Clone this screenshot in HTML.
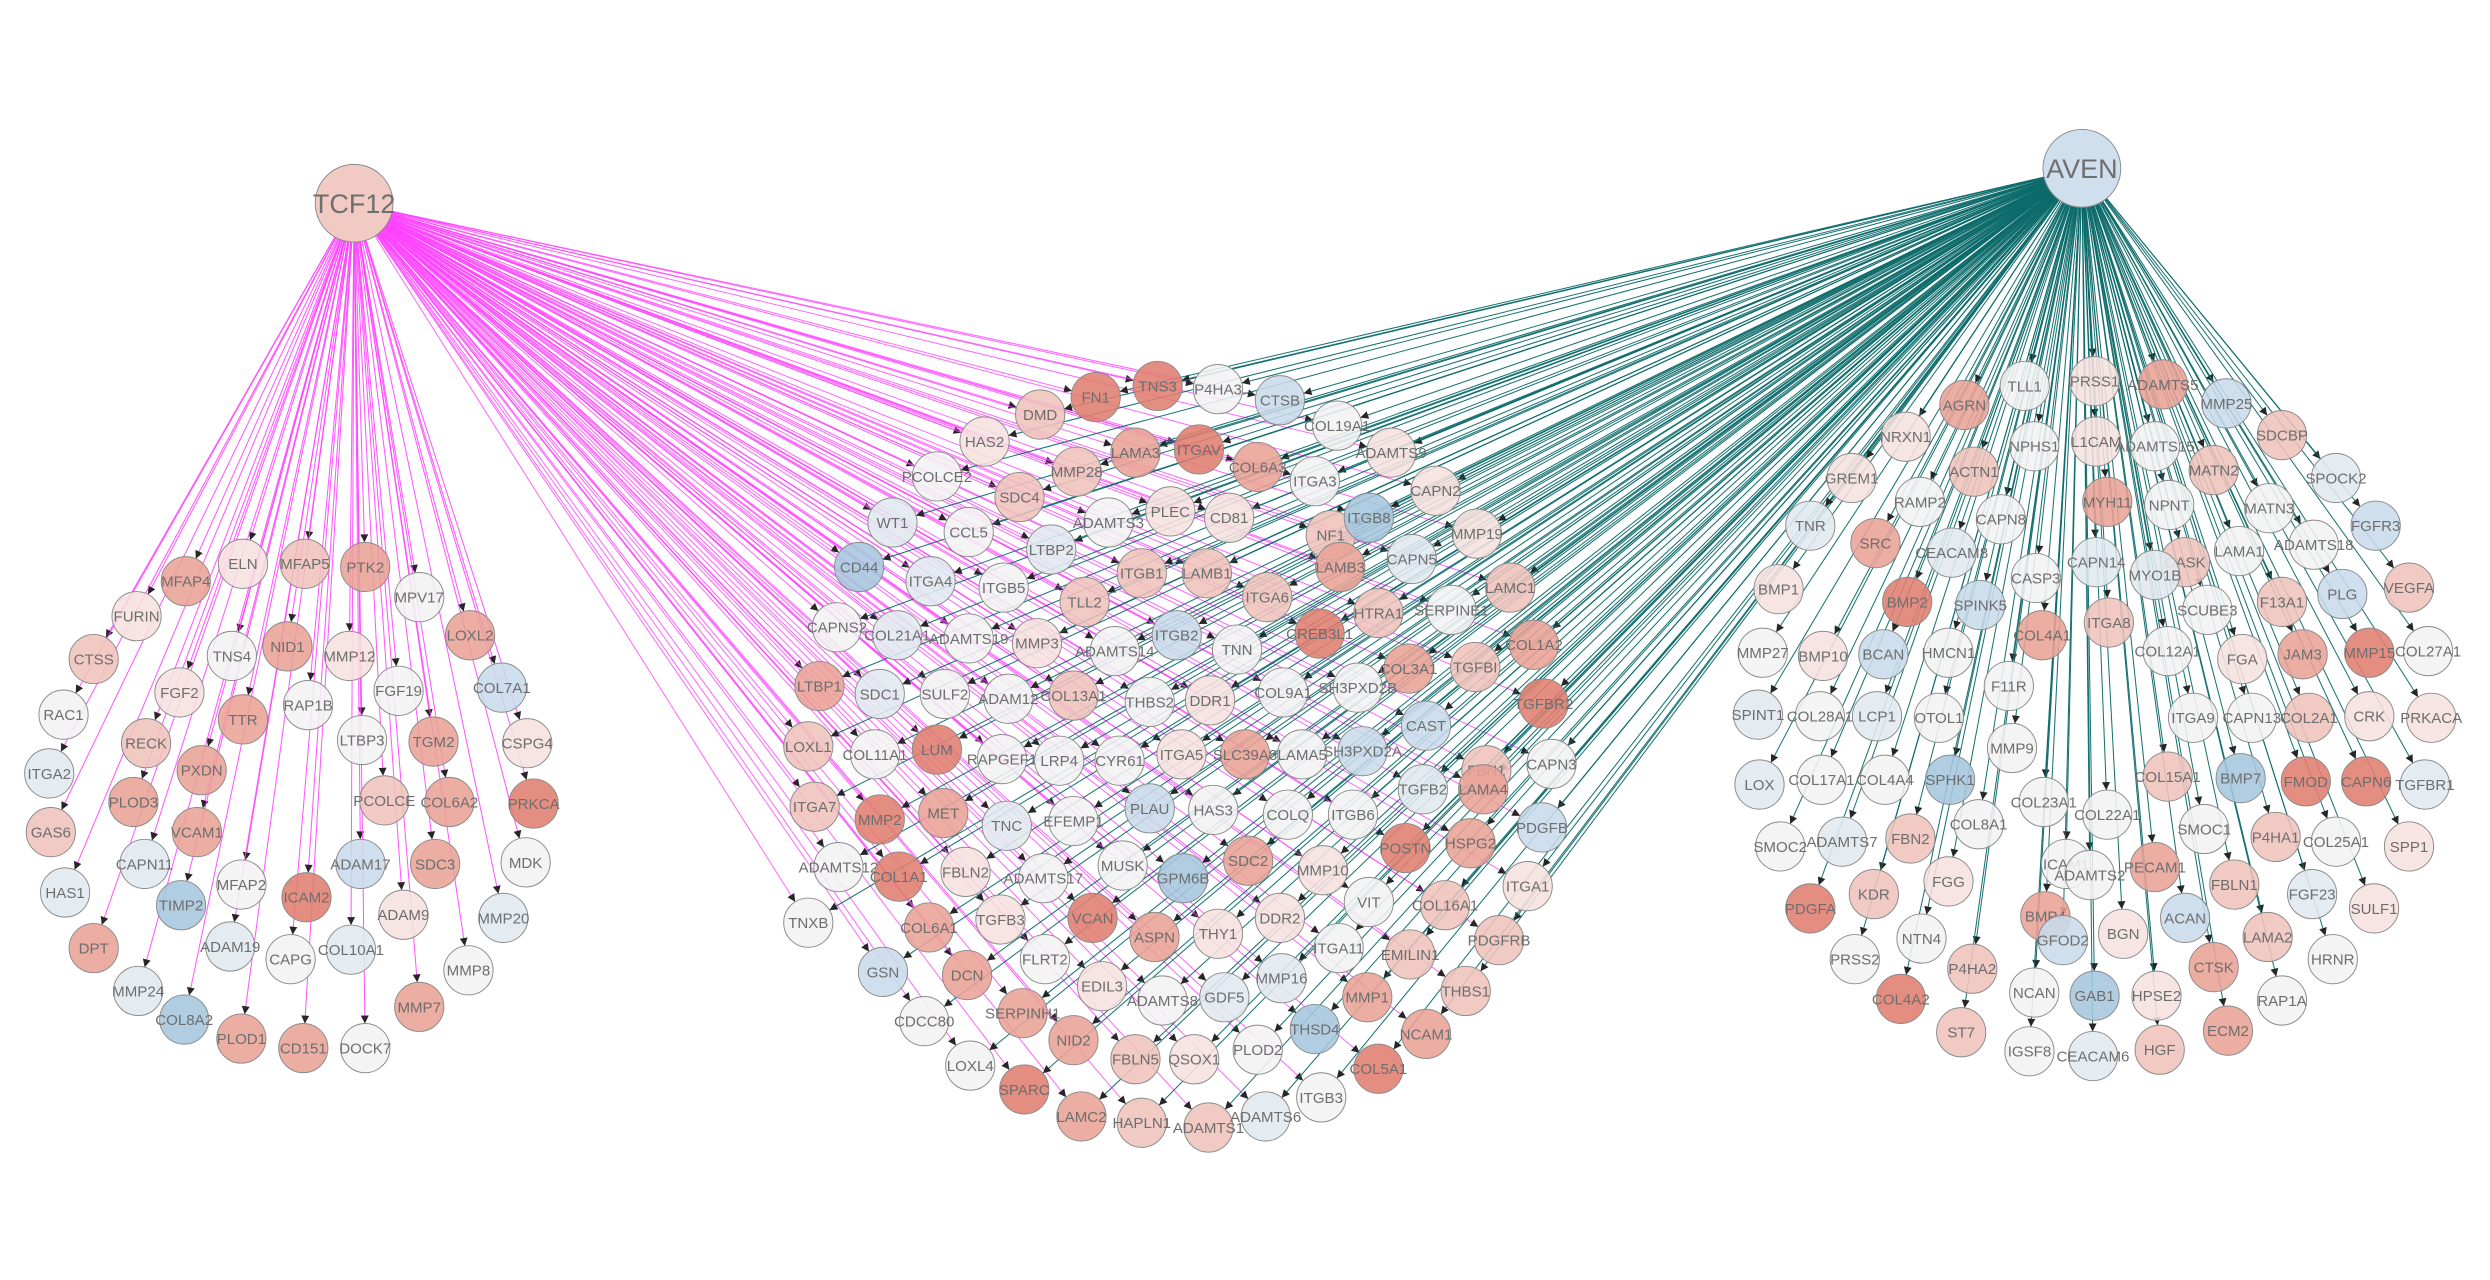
<!DOCTYPE html>
<html><head><meta charset="utf-8">
<style>
html,body{margin:0;padding:0;background:#fff;}
svg{display:block;}
text{font-family:"Liberation Sans","DejaVu Sans",sans-serif;fill:#6e6e6e;}
</style></head>
<body>
<svg id="net" width="2490" height="1280" viewBox="0 0 1568 806" xmlns="http://www.w3.org/2000/svg">
<defs>
<marker id="arr" viewBox="0 0 10 10" refX="10" refY="5" markerWidth="7" markerHeight="5" markerUnits="userSpaceOnUse" orient="auto"><path d="M0,0 L10,5 L0,10 z" fill="#262626"/></marker>
</defs>
<g id="edges"></g>
<g id="nodes"></g>
</svg>
<script>
const hubs = [["TCF12",223,128,"r1"],["AVEN",1311,106,"b1"]];
const leftNodes = [
["MFAP4",117,366,"r2"],["ELN",153,355,"r0"],["MFAP5",192,355,"r1"],["PTK2",230,357,"r2"],["MPV17",264,376,"w"],["LOXL2",296,400,"r2"],
["FURIN",86,388,"r0"],["CTSS",59,415,"r1"],["NID1",181,407,"r2"],["TNS4",146,413,"w"],["MMP12",220,413,"r0"],["FGF19",251,435,"w"],
["COL7A1",316,433,"b1"],["RAC1",40,450,"w"],["FGF2",113,436,"r0"],["TTR",153,453,"r2"],["RAP1B",194,444,"w"],["LTBP3",228,466,"w"],
["TGM2",273,467,"r2"],["CSPG4",332,468,"r0"],["ITGA2",31,487,"b0"],["RECK",92,468,"r1"],["PXDN",127,485,"r2"],["PCOLCE",242,504,"r1"],
["COL6A2",283,505,"r2"],["PRKCA",336,506,"r3"],["GAS6",32,524,"r1"],["PLOD3",84,505,"r2"],["VCAM1",124,524,"r2"],["CAPN11",91,544,"b0"],
["MFAP2",152,557,"w"],["ADAM17",227,544,"b1"],["SDC3",274,544,"r2"],["MDK",331,543,"w"],["HAS1",41,562,"b0"],["TIMP2",114,570,"b2"],
["ICAM2",193,565,"r3"],["ADAM9",254,576,"r0"],["MMP20",317,578,"b0"],["DPT",59,597,"r2"],["ADAM19",145,596,"b0"],["CAPG",183,604,"w"],
["COL10A1",221,598,"b0"],["MMP24",87,624,"b0"],["MMP8",295,611,"w"],["MMP7",264,634,"r2"],["COL8A2",116,642,"b2"],["PLOD1",152,654,"r2"],
["CD151",191,660,"r2"],["DOCK7",230,660,"w"]];
const midNodes = [
["FN1",690,250,"r3"],["TNS3",729,243,"r3"],["P4HA3",767,245,"w"],["CTSB",806,252,"b1"],["COL19A1",842,268,"w"],["DMD",655,261,"r1"],
["HAS2",620,278,"r0"],["LAMA3",715,285,"r2"],["ITGAV",755,283,"r3"],["ADAMTS9",876,285,"r0"],["MMP28",678,297,"r1"],["COL6A3",792,294,"r2"],
["ITGA3",828,303,"w"],["CAPN2",904,309,"r0"],["PCOLCE2",590,300,"w"],["SDC4",642,313,"r1"],["ADAMTS3",698,329,"w"],["PLEC",737,322,"r0"],
["CD81",774,326,"r0"],["NF1",838,337,"r1"],["ITGB8",862,326,"b2"],["MMP19",930,336,"r0"],["WT1",562,329,"b0"],["CCL5",610,335,"w"],
["LTBP2",662,346,"b0"],["CAPN5",889,352,"b0"],["LAMB3",844,357,"r2"],["LAMC1",951,370,"r1"],["CD44",541,357,"b2"],["ITGA4",586,366,"b0"],
["ITGB5",632,370,"w"],["ITGB1",719,361,"r1"],["LAMB1",760,361,"r1"],["ITGA6",798,376,"r1"],["TLL2",683,379,"r1"],["HTRA1",868,386,"r1"],
["SERPINE1",914,384,"w"],["CAPNS2",527,395,"w"],["COL21A1",565,400,"b0"],["ADAMTS19",610,402,"w"],["MMP3",653,405,"r0"],["ADAMTS14",702,410,"w"],
["ITGB2",741,400,"b1"],["TNN",779,409,"w"],["CREB3L1",831,399,"r3"],["COL1A2",966,406,"r2"],["COL3A1",887,421,"r2"],["TGFBI",929,420,"r1"],
["LTBP1",516,432,"r2"],["SDC1",554,437,"b0"],["SULF2",595,437,"w"],["ADAM12",635,440,"w"],["COL13A1",676,438,"r1"],["THBS2",724,442,"w"],
["DDR1",762,441,"r0"],["COL9A1",808,436,"w"],["SH3PXD2B",855,433,"w"],["TGFBR2",972,443,"r3"],["CAST",898,457,"b1"],["LOXL1",509,470,"r1"],
["COL11A1",551,475,"w"],["LUM",590,472,"r3"],["RAPGEF1",631,478,"w"],["LRP4",667,479,"w"],["CYR61",705,479,"w"],["ITGA5",744,475,"r0"],
["SLC39A8",784,475,"r2"],["LAMA5",820,475,"w"],["SH3PXD2A",858,473,"b1"],["FBN1",936,485,"r1"],["CAPN3",977,481,"w"],["TGFB2",896,497,"b0"],
["LAMA4",934,497,"r2"],["ITGA7",513,508,"r1"],["MMP2",554,516,"r3"],["MET",594,512,"r2"],["TNC",634,520,"b0"],["EFEMP1",676,517,"w"],
["PLAU",724,509,"b1"],["HAS3",764,510,"w"],["COLQ",811,513,"w"],["ITGB6",852,513,"w"],["HSPG2",926,531,"r2"],["PDGFB",971,521,"b1"],
["ADAMTS12",528,546,"w"],["COL1A1",566,552,"r3"],["FBLN2",608,549,"r0"],["ADAMTS17",657,553,"w"],["MUSK",707,545,"w"],["GPM6B",745,553,"b2"],
["SDC2",786,542,"r2"],["POSTN",885,534,"r3"],["MMP10",833,548,"r0"],["COL16A1",910,570,"r1"],["ITGA1",962,558,"r0"],["TNXB",509,581,"w"],
["COL6A1",585,584,"r2"],["TGFB3",630,579,"r0"],["VCAN",688,578,"r3"],["ASPN",727,590,"r2"],["THY1",767,588,"r0"],["DDR2",806,578,"r0"],
["VIT",862,568,"w"],["ITGA11",843,597,"w"],["PDGFRB",944,592,"r1"],["GSN",556,612,"b1"],["DCN",609,614,"r2"],["FLRT2",658,604,"w"],
["EDIL3",694,621,"r0"],["ADAMTS8",732,630,"w"],["GDF5",771,628,"b0"],["MMP16",807,616,"b0"],["EMILIN1",888,601,"r1"],["SERPINH1",644,638,"r2"],
["CDCC80",582,643,"w"],["NID2",676,655,"r2"],["MMP1",861,628,"r2"],["THBS1",923,624,"r1"],["LOXL4",611,671,"w"],["FBLN5",715,667,"r1"],
["QSOX1",752,667,"r0"],["PLOD2",792,661,"w"],["THSD4",828,648,"b2"],["NCAM1",898,651,"r2"],["SPARC",645,686,"r3"],["LAMC2",681,703,"r2"],
["HAPLN1",719,707,"r1"],["ADAMTS1",761,710,"r1"],["ADAMTS6",797,703,"b0"],["ITGB3",832,691,"w"],["COL5A1",868,673,"r3"]];
const rightNodes = [
["AGRN",1237,255,"r2"],["TLL1",1275,243,"w"],["PRSS1",1319,240,"r0"],["ADAMTS5",1362,242,"r2"],["MMP25",1402,254,"b1"],["NRXN1",1200,275,"r0"],
["NPHS1",1281,281,"w"],["L1CAM",1320,278,"r0"],["ADAMTS15",1357,281,"w"],["SDCBP",1437,274,"r1"],["GREM1",1166,301,"r0"],["ACTN1",1243,297,"r1"],
["RAMP2",1209,316,"w"],["MATN2",1394,296,"r1"],["SPOCK2",1471,301,"b0"],["MYH11",1327,316,"r2"],["NPNT",1366,318,"w"],["MATN3",1429,320,"w"],
["CAPN8",1260,327,"w"],["TNR",1140,331,"b0"],["FGFR3",1496,331,"b1"],["SRC",1181,342,"r2"],["ADAMTS18",1457,343,"w"],["CEACAM8",1229,348,"b0"],
["CASK",1376,354,"r1"],["CAPN14",1320,354,"b0"],["MYO1B",1357,362,"b0"],["LAMA1",1410,347,"w"],["BMP1",1120,371,"r0"],["CASP3",1282,364,"w"],
["BMP2",1201,379,"r3"],["SPINK5",1247,381,"b1"],["PLG",1475,374,"b1"],["VEGFA",1517,370,"r1"],["SCUBE3",1390,384,"w"],["F13A1",1437,379,"r1"],
["COL4A1",1286,400,"r2"],["BMP10",1148,413,"r0"],["HMCN1",1227,411,"w"],["ITGA8",1328,392,"r1"],["MMP27",1110,411,"w"],["COL27A1",1529,410,"w"],
["BCAN",1186,412,"b1"],["COL12A1",1365,410,"w"],["FGA",1412,415,"r0"],["JAM3",1450,412,"r2"],["MMP15",1492,411,"r3"],["F11R",1265,432,"w"],
["SPINT1",1107,450,"b0"],["COL28A1",1146,451,"w"],["LCP1",1182,451,"b0"],["OTOL1",1221,452,"w"],["ITGA9",1381,452,"w"],["CAPN13",1418,452,"w"],
["COL2A1",1454,452,"r1"],["CRK",1492,451,"r0"],["PRKACA",1531,452,"r0"],["MMP9",1267,471,"w"],["LOX",1108,494,"b0"],["COL17A1",1147,491,"w"],
["COL4A4",1187,491,"w"],["SPHK1",1228,491,"b2"],["COL23A1",1287,505,"w"],["COL15A1",1365,489,"r1"],["COL22A1",1327,513,"w"],["BMP7",1411,490,"b2"],
["FMOD",1452,492,"r3"],["CAPN6",1490,492,"r3"],["TGFBR1",1527,494,"b0"],["SMOC2",1121,533,"w"],["ADAMTS7",1160,530,"b0"],["COL8A1",1246,519,"w"],
["FBN2",1203,528,"r1"],["SMOC1",1388,522,"w"],["P4HA1",1433,527,"r1"],["COL25A1",1471,530,"w"],["SPP1",1517,533,"r0"],["ICAM1",1301,544,"w"],
["PECAM1",1357,546,"r2"],["FBLN1",1407,557,"r1"],["FGG",1227,555,"r0"],["KDR",1180,563,"r1"],["ADAMTS2",1316,551,"w"],["PDGFA",1140,572,"r3"],
["ACAN",1376,578,"b1"],["FGF23",1456,563,"b0"],["SULF1",1495,572,"r0"],["BMP4",1288,577,"r2"],["NTN4",1210,591,"w"],["GFOD2",1299,592,"b1"],
["BGN",1337,588,"r0"],["LAMA2",1428,590,"r1"],["PRSS2",1168,604,"w"],["P4HA2",1242,610,"r1"],["CTSK",1394,609,"r2"],["HRNR",1469,604,"w"],
["HPSE2",1358,627,"r0"],["RAP1A",1437,630,"w"],["COL4A2",1197,629,"r3"],["NCAN",1281,625,"w"],["GAB1",1319,627,"b2"],["ECM2",1403,649,"r2"],
["ST7",1235,650,"r1"],["IGSF8",1278,662,"w"],["CEACAM6",1318,665,"b0"],["HGF",1360,661,"r1"]];
const levelColors = {r3:"#e07e6f",r2:"#e9a296",r1:"#efc3bc",r0:"#f6e1df",w:"#f3f3f3",b0:"#e1e9ef",b1:"#c8dbea",b2:"#a6c6de"};
const NS="http://www.w3.org/2000/svg";
const eg=document.getElementById('edges'), ng=document.getElementById('nodes');
function edge(h,n,color,op){
  const dx=n[1]-h[1], dy=n[2]-h[2], d=Math.hypot(dx,dy);
  const r0=24, r1=15.5;
  const l=document.createElementNS(NS,'line');
  l.setAttribute('x1',h[1]+dx/d*r0); l.setAttribute('y1',h[2]+dy/d*r0);
  l.setAttribute('x2',n[1]-dx/d*r1); l.setAttribute('y2',n[2]-dy/d*r1);
  l.setAttribute('stroke',color); l.setAttribute('stroke-width','0.65'); l.setAttribute('stroke-opacity',op);
  l.setAttribute('marker-end','url(#arr)');
  
  
  eg.appendChild(l);
}
leftNodes.forEach(n=>edge(hubs[0],n,"#ff44ff",0.9));
midNodes.forEach(n=>edge(hubs[0],n,"#ff44ff",0.8));
midNodes.forEach(n=>edge(hubs[1],n,"#0d6a6a",0.95));
rightNodes.forEach(n=>edge(hubs[1],n,"#0d6a6a",0.95));
function node(n,r,fs){
  const g=document.createElementNS(NS,'g');
  
  
  const c=document.createElementNS(NS,'circle');
  c.setAttribute('cx',n[1]); c.setAttribute('cy',n[2]); c.setAttribute('r',r);
  c.setAttribute('fill',levelColors[n[3]]); c.setAttribute('fill-opacity','0.88');
  c.setAttribute('stroke','#8a8a8a'); c.setAttribute('stroke-width','0.6');
  const t=document.createElementNS(NS,'text');
  t.setAttribute('x',n[1]); t.setAttribute('y',n[2]+fs*0.36);
  t.setAttribute('text-anchor','middle'); t.setAttribute('font-size',fs);
  t.textContent=n[0];
  g.appendChild(c); g.appendChild(t); ng.appendChild(g);
}
leftNodes.concat(midNodes,rightNodes).forEach(n=>node(n,15.5,9.5));
node(hubs[0],24.5,17);
node(hubs[1],24.5,17);
</script>
</body></html>
